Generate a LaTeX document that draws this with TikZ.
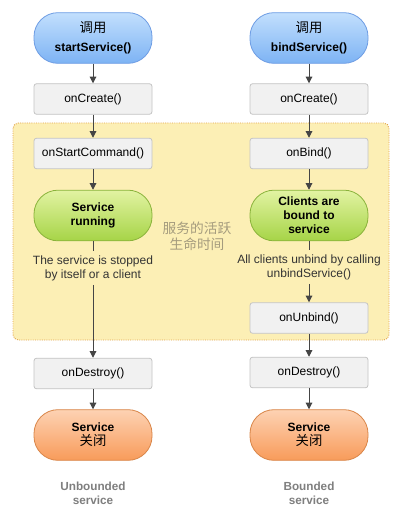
\documentclass[tikz,border=0pt]{standalone}
\usepackage{fontspec}
\setmainfont{Liberation Sans}
\newfontfamily\cjk{Noto Sans CJK SC}
\usetikzlibrary{arrows.meta}
\definecolor{bluetop}{HTML}{C2DFFD}
\definecolor{bluebot}{HTML}{7DB3F4}
\definecolor{blueedge}{HTML}{6E9DE4}
\definecolor{greentop}{HTML}{E2F3A2}
\definecolor{greenbot}{HTML}{A6D447}
\definecolor{greenedge}{HTML}{8AB33B}
\definecolor{orangetop}{HTML}{FDD2B3}
\definecolor{orangebot}{HTML}{F89B5A}
\definecolor{orangeedge}{HTML}{D98649}
\definecolor{boxfill}{HTML}{F1F1F1}
\definecolor{boxedge}{HTML}{C4C4C4}
\definecolor{zonefill}{HTML}{FCEFB5}
\definecolor{zoneedge}{HTML}{E3A54E}
\definecolor{arrowcol}{HTML}{454545}
\definecolor{midtext}{HTML}{A59C7E}
\definecolor{labeltext}{HTML}{7F7F7F}
\tikzset{
  every node/.style={font=\fontsize{9pt}{10.5pt}\selectfont, align=center},
  pill/.style={rectangle, rounded corners=18pt, minimum width=88.5pt, minimum height=38pt, draw, line width=0.6pt, inner sep=0pt, font=\fontsize{9pt}{10.5pt}\selectfont\bfseries},
  bluepill/.style={pill, top color=bluetop, bottom color=bluebot, draw=blueedge},
  greenpill/.style={pill, top color=greentop, bottom color=greenbot, draw=greenedge},
  orangepill/.style={pill, top color=orangetop, bottom color=orangebot, draw=orangeedge},
  callbox/.style={rectangle, rounded corners=2pt, minimum width=88.5pt, minimum height=23pt, draw=boxedge, fill=boxfill, line width=0.6pt, inner sep=0pt},
  desc/.style={text=black!80, inner sep=3pt, font=\fontsize{9pt}{10.5pt}\selectfont},
  flow/.style={draw=arrowcol, line width=0.75pt, -{Triangle[length=5pt,width=5pt]}},
  plain/.style={draw=arrowcol, line width=0.75pt},
  caption/.style={text=labeltext, font=\fontsize{8.8pt}{10.5pt}\selectfont\bfseries},
}
\newcommand{\cjkbig}[1]{{\cjk\mdseries\fontsize{10pt}{11pt}\selectfont #1}}
\begin{document}
\begin{tikzpicture}[x=0.75pt,y=-0.75pt]
\useasboundingbox (0,0) rectangle (404,520);
\fill[white] (0,0) rectangle (404,520);
% active lifetime zone
\draw[fill=zonefill, draw=zoneedge, densely dotted, line width=0.7pt, rounded corners=4pt] (13,123) rectangle (389,340);
\node[text=midtext, font=\fontsize{10.3pt}{12pt}\selectfont\cjk] (mid) at (197,236) {服务的活跃\\生命时间};

% left column
\node[bluepill] (ls) at (93,38) {\cjkbig{调用}\\[3.5pt]startService()};
\node[callbox] (lc) at (93,99) {onCreate()};
\node[callbox] (lsc) at (93,153.5) {onStartCommand()};
\node[greenpill] (lr) at (93,215.5) {Service\\running};
\node[desc] (lt) at (93,268) {The service is stopped\\by itself or a client};
\node[callbox] (ld) at (93,373.5) {onDestroy()};
\node[orangepill] (le) at (93,435) {Service\\\cjkbig{关闭}};
\node[caption] (lcap) at (93,493) {Unbounded\\service};

\draw[flow] (ls) -- (lc);
\draw[flow] (lc) -- (lsc);
\draw[flow] (lsc) -- (lr);
\draw[plain] (lr) -- (lt);
\draw[flow] (lt) -- (ld);
\draw[flow] (ld) -- (le);

% right column
\node[bluepill] (rs) at (309,38) {\cjkbig{调用}\\[3.5pt]bindService()};
\node[callbox] (rc) at (309,99) {onCreate()};
\node[callbox] (rb) at (309,153.5) {onBind()};
\node[greenpill] (rr) at (309,215.5) {Clients are\\bound to\\service};
\node[desc] (rt) at (309,267) {All clients unbind by calling\\unbindService()};
\node[callbox] (ru) at (309,318) {onUnbind()};
\node[callbox] (rd) at (309,372.5) {onDestroy()};
\node[orangepill] (re) at (309,435) {Service\\\cjkbig{关闭}};
\node[caption] (rcap) at (309,493) {Bounded\\service};

\draw[flow] (rs) -- (rc);
\draw[flow] (rc) -- (rb);
\draw[flow] (rb) -- (rr);
\draw[plain] (rr) -- (rt);
\draw[flow] (rt) -- (ru);
\draw[flow] (ru) -- (rd);
\draw[flow] (rd) -- (re);
\end{tikzpicture}
\end{document}
